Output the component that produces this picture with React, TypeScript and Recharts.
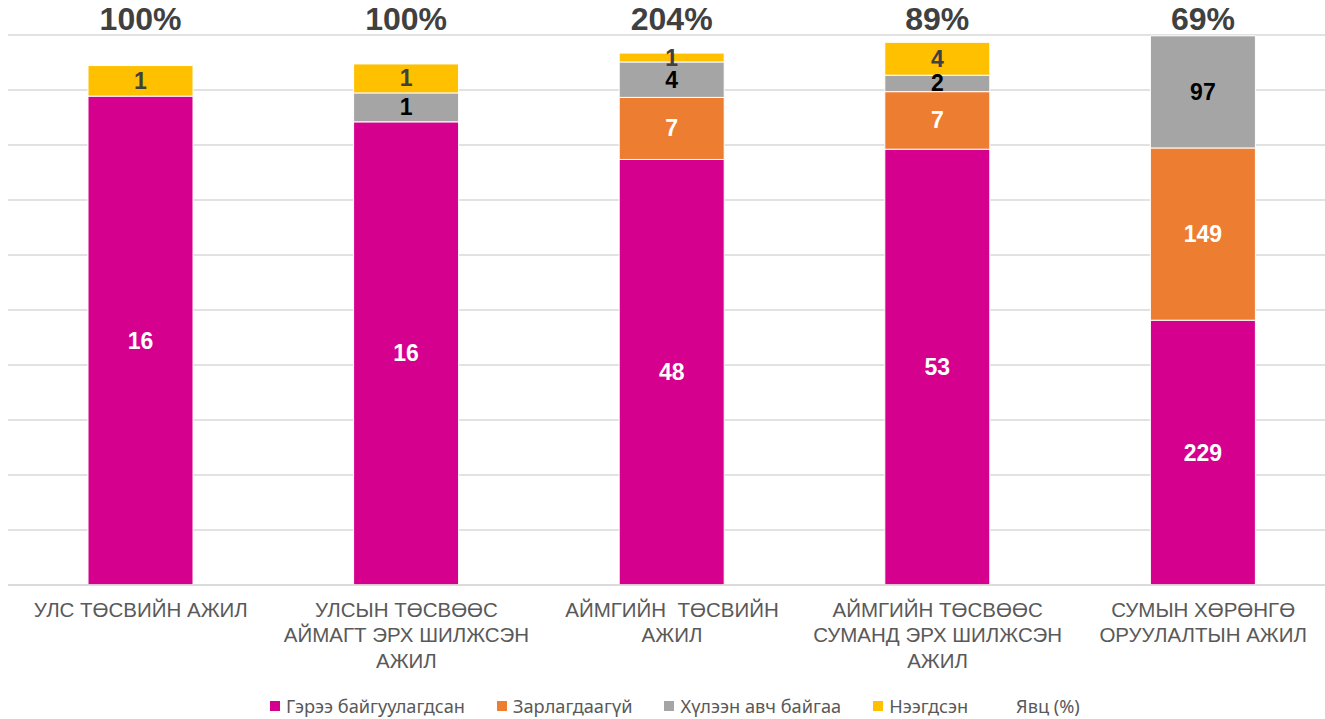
import {
  ComposedChart, Bar, XAxis, YAxis, CartesianGrid, Legend, LabelList,
} from 'recharts';

const categories = [
  'УЛС ТӨСВИЙН АЖИЛ',
  'УЛСЫН ТӨСВӨӨС\nАЙМАГТ ЭРХ ШИЛЖСЭН\nАЖИЛ',
  'АЙМГИЙН  ТӨСВИЙН\nАЖИЛ',
  'АЙМГИЙН ТӨСВӨӨС\nСУМАНД ЭРХ ШИЛЖСЭН\nАЖИЛ',
  'СУМЫН ХӨРӨНГӨ\nОРУУЛАЛТЫН АЖИЛ',
];
const contracted = [16, 16, 48, 53, 229];
const unspent = [0, 0, 7, 7, 149];
const inProgress = [0, 1, 4, 2, 97];
const cancelled = [1, 1, 1, 4, 0];
const progress = [1.0, 1.0, 2.04, 0.89, 0.69];
const gridTicks = [0, 0.1, 0.2, 0.3, 0.4, 0.5, 0.6, 0.7, 0.8, 0.9, 1];

const legendItems = [
  { name: 'Гэрээ байгуулагдсан', color: '#D6008F' },
  { name: 'Зарлагдаагүй', color: '#ED7D31' },
  { name: 'Хүлээн авч байгаа', color: '#A5A5A5' },
  { name: 'Нээгдсэн', color: '#FFC000' },
  { name: 'Явц (%)', color: 'transparent' },
];

const data = categories.map((name, i) => ({
  name,
  contracted: contracted[i],
  unspent: unspent[i],
  inProgress: inProgress[i],
  cancelled: cancelled[i],
  progress: progress[i],
}));

const FONT = '"Liberation Sans", Arial, sans-serif';

const segLabel = (color: string) => (props: any) => {
  const { x, y, width, height, value } = props;
  if (!value) return null;
  return (
    <text
      x={x + width / 2}
      y={y + height / 2}
      textAnchor="middle"
      dominantBaseline="central"
      fill={color}
      fontSize={23}
      fontWeight="bold"
      fontFamily={FONT}
    >
      {value}
    </text>
  );
};

const pctLabel = (props: any) => {
  const { x, y, width, value } = props;
  return (
    <text
      x={x + width / 2}
      y={y - 16}
      textAnchor="middle"
      dominantBaseline="central"
      fill="#404040"
      fontSize={32}
      fontWeight="bold"
      fontFamily={FONT}
    >
      {`${Math.round(Number(value) * 100)}%`}
    </text>
  );
};

const CatTick = (props: any) => {
  const { x, y, payload } = props;
  const lines = String(payload.value).split('\n');
  return (
    <text x={x} y={y} textAnchor="middle" fill="#595959" fontSize={20.5} fontFamily={FONT}>
      {lines.map((l, i) => (
        <tspan key={i} x={x} dy={i === 0 ? 29.5 : 25.5} style={{ whiteSpace: 'pre' }}>{l}</tspan>
      ))}
    </text>
  );
};

const LegendContent = () => (
  <div style={{ display: 'flex', alignItems: 'center', height: 26, paddingLeft: 262, fontFamily: '"Noto Sans", sans-serif', fontSize: 18.2, color: '#595959' }}>
    {legendItems.map(it => (
      <div key={it.name} style={{ display: 'flex', alignItems: 'center', marginRight: 32 }}>
        <span style={{ display: 'inline-block', width: 10, height: 10, background: it.color, marginRight: 6 }} />
        <span>{it.name}</span>
      </div>
    ))}
  </div>
);

export default function App() {
  return (
    <div style={{ width: 1325, height: 719, overflow: 'hidden', paddingLeft: 8, boxSizing: 'border-box' }}>
      <style>{'html,body{margin:0;overflow:hidden}'}</style>
      <ComposedChart
        width={1328}
        height={719}
        data={data}
        stackOffset="expand"
        barSize={105}
        margin={{ top: 35, right: 0, bottom: 0, left: 0 }}
      >
        <CartesianGrid vertical={false} stroke="#D9D9D9" strokeWidth={1.5} />
        <XAxis
          dataKey="name"
          interval={0}
          height={108}
          tickLine={false}
          tickSize={0}
          axisLine={{ stroke: '#D9D9D9', strokeWidth: 1.5 }}
          tick={<CatTick />}
        />
        <YAxis hide domain={[0, 1]} ticks={gridTicks} />
        <Legend verticalAlign="bottom" height={26} content={<LegendContent />} />
        <Bar dataKey="contracted" stackId="a" fill="#D6008F" stroke="#fff" strokeWidth={1} isAnimationActive={false}>
          <LabelList dataKey="contracted" content={segLabel('#fff')} />
        </Bar>
        <Bar dataKey="unspent" stackId="a" fill="#ED7D31" stroke="#fff" strokeWidth={1} isAnimationActive={false}>
          <LabelList dataKey="unspent" content={segLabel('#fff')} />
        </Bar>
        <Bar dataKey="inProgress" stackId="a" fill="#A5A5A5" stroke="#fff" strokeWidth={1} isAnimationActive={false}>
          <LabelList dataKey="inProgress" content={segLabel('#000')} />
        </Bar>
        <Bar dataKey="cancelled" stackId="a" fill="#FFC000" stroke="#fff" strokeWidth={1} isAnimationActive={false}>
          <LabelList dataKey="cancelled" content={segLabel('#404040')} />
        </Bar>
        <Bar dataKey="progress" stackId="a" fill="transparent" isAnimationActive={false}>
          <LabelList dataKey="progress" content={pctLabel} />
        </Bar>
      </ComposedChart>
    </div>
  );
}
